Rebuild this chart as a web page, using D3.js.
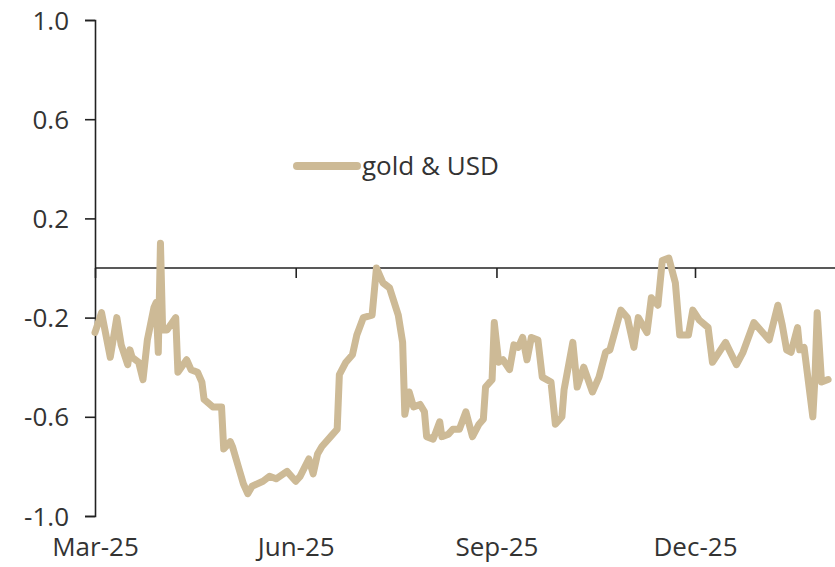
<!DOCTYPE html>
<html>
<head>
<meta charset="utf-8">
<script src="https://cdn.jsdelivr.net/npm/d3@7"></script>
<style>
  body { margin: 0; background: #fff; }
  svg text { font-family: "Open Sans", sans-serif; fill: #333; }
</style>
</head>
<body>
<svg id="chart" width="835" height="567"></svg>
<script>
// rolling correlation, gold & USD
var dates = [
  "2025-03-01","2025-03-04","2025-03-08","2025-03-11","2025-03-13","2025-03-16","2025-03-17","2025-03-18",
  "2025-03-21","2025-03-23","2025-03-25","2025-03-28","2025-03-29","2025-03-30","2025-03-31","2025-04-01",
  "2025-04-03","2025-04-07","2025-04-08","2025-04-12","2025-04-14","2025-04-17","2025-04-19","2025-04-20",
  "2025-04-24","2025-04-28","2025-04-29","2025-05-02","2025-05-03","2025-05-06","2025-05-08","2025-05-10",
  "2025-05-12","2025-05-17","2025-05-20","2025-05-23","2025-05-28","2025-06-01","2025-06-03","2025-06-07",
  "2025-06-09","2025-06-11","2025-06-13","2025-06-17","2025-06-18","2025-06-20","2025-06-21","2025-06-24",
  "2025-06-27","2025-06-29","2025-07-02","2025-07-06","2025-07-08","2025-07-11","2025-07-14","2025-07-18",
  "2025-07-20","2025-07-21","2025-07-23","2025-07-25","2025-07-28","2025-07-30","2025-07-31","2025-08-03",
  "2025-08-06","2025-08-07","2025-08-10","2025-08-12","2025-08-15","2025-08-18","2025-08-21","2025-08-24",
  "2025-08-26","2025-08-27","2025-08-30","2025-08-31","2025-09-02","2025-09-04","2025-09-07","2025-09-09",
  "2025-09-11","2025-09-13","2025-09-15","2025-09-17","2025-09-20","2025-09-22","2025-09-26","2025-09-28",
  "2025-10-01","2025-10-02","2025-10-06","2025-10-08","2025-10-11","2025-10-15","2025-10-18","2025-10-21",
  "2025-10-23","2025-10-28","2025-10-31","2025-11-03","2025-11-05","2025-11-09","2025-11-11","2025-11-14",
  "2025-11-16","2025-11-19","2025-11-22","2025-11-24","2025-11-28","2025-11-30","2025-12-03","2025-12-07",
  "2025-12-09","2025-12-15","2025-12-20","2025-12-23","2025-12-28","2026-01-01","2026-01-04","2026-01-08",
  "2026-01-10","2026-01-12","2026-01-14","2026-01-17","2026-01-18","2026-01-20","2026-01-24","2026-01-25",
  "2026-01-26","2026-01-28","2026-01-31"
];
var goldUsd = [
  -0.26,-0.18,-0.36,-0.20,-0.31,-0.39,-0.33,-0.36,
  -0.38,-0.45,-0.29,-0.16,-0.14,-0.34,0.10,-0.25,
  -0.25,-0.20,-0.42,-0.37,-0.41,-0.42,-0.46,-0.53,
  -0.56,-0.56,-0.73,-0.70,-0.72,-0.81,-0.87,-0.91,
  -0.88,-0.86,-0.84,-0.85,-0.82,-0.86,-0.84,-0.77,
  -0.83,-0.75,-0.72,-0.68,-0.67,-0.65,-0.43,-0.38,
  -0.35,-0.27,-0.20,-0.19,0.00,-0.06,-0.08,-0.19,
  -0.30,-0.59,-0.50,-0.56,-0.55,-0.58,-0.68,-0.69,
  -0.62,-0.68,-0.67,-0.65,-0.65,-0.58,-0.68,-0.63,
  -0.61,-0.48,-0.45,-0.22,-0.38,-0.37,-0.41,-0.31,
  -0.32,-0.28,-0.37,-0.28,-0.29,-0.44,-0.46,-0.63,
  -0.60,-0.49,-0.30,-0.48,-0.40,-0.50,-0.44,-0.34,
  -0.33,-0.17,-0.20,-0.32,-0.20,-0.26,-0.12,-0.15,
  0.03,0.04,-0.06,-0.27,-0.27,-0.17,-0.21,-0.24,
  -0.38,-0.30,-0.39,-0.34,-0.22,-0.26,-0.29,-0.15,
  -0.23,-0.33,-0.34,-0.24,-0.33,-0.32,-0.60,-0.44,
  -0.18,-0.46,-0.45
];
var yTicks = [-1.0, -0.6, -0.2, 0.2, 0.6, 1.0];
var xTicks = ["2025-03-01","2025-06-01","2025-09-01","2025-12-01"];
var xTickLabels = ["Mar-25","Jun-25","Sep-25","Dec-25"];
var seriesName = "gold & USD";

var parse = d3.timeParse("%Y-%m-%d");
var data = dates.map(function (d, i) { return { date: parse(d), value: goldUsd[i] }; });

var svg = d3.select("#chart");
var lineColor = "#cdba96";

var x = d3.scaleTime()
  .domain([parse("2025-03-01"), parse("2025-12-01")])
  .range([95, 695]);
var y = d3.scaleLinear().domain([-1, 1]).range([516, 20]);

// y axis, plain hyphen for negatives like the source
var yAxis = svg.append("g")
  .attr("transform", "translate(95,0)")
  .call(d3.axisLeft(y).tickValues(yTicks).tickSize(10).tickPadding(16)
    .tickFormat(function (d) { return d.toFixed(1); }));
yAxis.selectAll("text").style("font-size", "26px").attr("dy", "0.35em");
yAxis.selectAll("line, path").attr("stroke", "#222").attr("stroke-width", 1.6);

// zero line with tick marks
var tickDates = xTicks.map(parse);
var xAxis = svg.append("g")
  .attr("transform", "translate(0," + y(0) + ")")
  .call(d3.axisBottom(x).tickValues(tickDates).tickSize(10).tickSizeOuter(0).tickFormat(""));
xAxis.select(".domain").attr("d", "M95,0H835");
xAxis.selectAll("line, path").attr("stroke", "#222").attr("stroke-width", 1.6);

// month labels at bottom
var xLabels = svg.append("g")
  .attr("transform", "translate(0," + y(-1) + ")")
  .call(d3.axisBottom(x).tickValues(tickDates).tickSize(0).tickPadding(22)
    .tickFormat(function (d, i) { return xTickLabels[i]; }));
xLabels.select(".domain").remove();
xLabels.selectAll("text").style("font-size", "26px");

// series
var line = d3.line()
  .x(function (d) { return x(d.date); })
  .y(function (d) { return y(d.value); });

svg.append("path")
  .datum(data)
  .attr("fill", "none")
  .attr("stroke", lineColor)
  .attr("stroke-width", 7)
  .attr("stroke-linejoin", "round")
  .attr("stroke-linecap", "round")
  .attr("d", line);

// legend
var legend = svg.append("g").attr("transform", "translate(297,166)");
legend.append("line")
  .attr("x1", 0).attr("x2", 60)
  .attr("stroke", lineColor).attr("stroke-width", 8).attr("stroke-linecap", "round");
legend.append("text")
  .attr("x", 65).attr("dy", "0.35em")
  .style("font-size", "26px")
  .text(seriesName);
</script>
</body>
</html>
